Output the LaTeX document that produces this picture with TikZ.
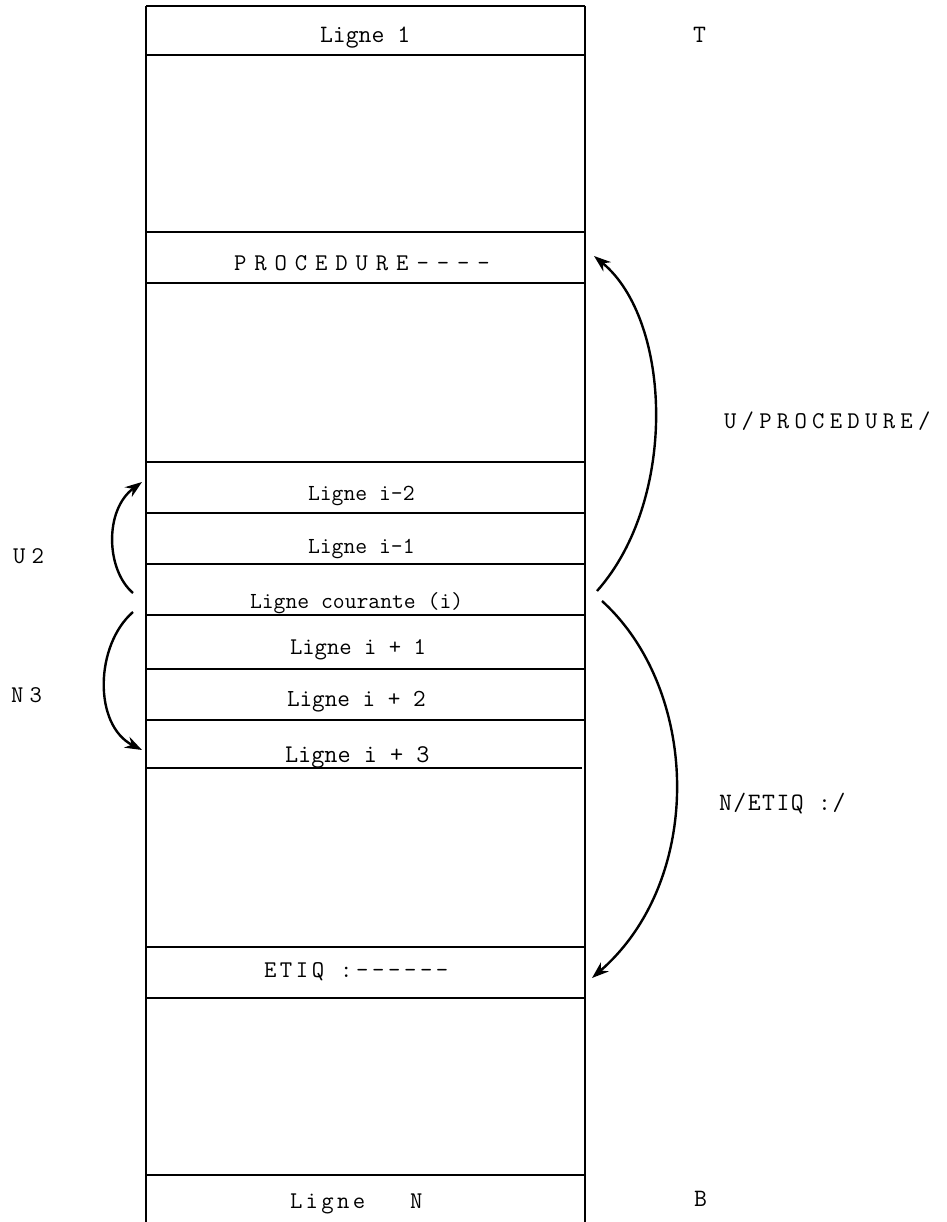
\documentclass[tikz,border=0pt]{standalone}
\usepackage{fontspec}
\newfontfamily\diagmono{Latin Modern Mono}
\usetikzlibrary{arrows.meta}
\newcommand{\fsz}[1]{\diagmono\fontsize{#1}{#1}\selectfont}
\newcommand{\lsp}[1]{\addfontfeatures{LetterSpace=#1}}
\begin{document}
\begin{tikzpicture}[x=1pt,y=-1pt,
  boxline/.style={line width=1.3pt,black},
  lbl/.style={anchor=base west,inner sep=0pt,outer sep=0pt},
  jump/.style={line width=2.4pt,-{Stealth[length=17pt,width=12pt]}}]
\useasboundingbox (0,0) rectangle (946,1222);
% frame
\draw[boxline] (146,6) -- (146,1222);
\draw[boxline] (585,6) -- (585,1222);
\foreach \y in {6,55,232,283,462,513,564,615,669,720,947,998,1175}
  \draw[boxline] (146,\y) -- (585,\y);
\draw[boxline] (146,768) -- (582,768);
% row texts
\node[lbl,font=\fsz{25}] (l1) at (320,43) {Ligne 1};
\node[lbl,font=\fsz{24}\lsp{33}] (proc) at (234,271) {PROCEDURE----};
\node[lbl,font=\fsz{23}] (lm2) at (308,500) {Ligne i-2};
\node[lbl,font=\fsz{23}] (lm1) at (308,553) {Ligne i-1};
\node[lbl,font=\fsz{23}] (lc) at (250,608) {Ligne courante (i)};
\node[lbl,font=\fsz{24}] (lp1) at (290,654) {Ligne i + 1};
\node[lbl,font=\fsz{24.5}] (lp2) at (287,706) {Ligne i + 2};
\node[lbl,font=\fsz{25.5}] (lp3) at (285,762) {Ligne i + 3};
\node[lbl,font=\fsz{24}\lsp{15}] (etiq) at (264,977) {ETIQ :------};
\node[lbl,font=\fsz{24}\lsp{14}] (ln) at (290,1208) {Ligne\hspace{45pt}N};
% side labels
\node[lbl,font=\fsz{25}] (t) at (693,43) {T};
\node[lbl,font=\fsz{25}] (b) at (694,1206) {B};
\node[lbl,font=\fsz{24}\lsp{22}] (uproc) at (724,428) {U/PROCEDURE/};
\node[lbl,font=\fsz{25}\lsp{6}] (netiq) at (719,810) {N/ETIQ :/};
\node[lbl,font=\fsz{24}\lsp{26}] (u2) at (13,563) {U2};
\node[lbl,font=\fsz{24}\lsp{26}] (n3) at (11,702) {N3};
% arrow end points
\coordinate (u2s) at (133,593);
\coordinate (u2e) at (142,482);
\coordinate (n3s) at (133,612);
\coordinate (n3e) at (142,750);
\coordinate (ups) at (597,591);
\coordinate (upe) at (594,256);
\coordinate (nes) at (602,601);
\coordinate (nee) at (592,978);
\draw[jump] (u2s) .. controls (106,570) and (104,510) .. (u2e);
\draw[jump] (n3s) .. controls (95,645) and (93,725) .. (n3e);
\draw[jump] (ups) .. controls (678,500) and (672,320) .. (upe);
\draw[jump] (nes) .. controls (700,690) and (705,880) .. (nee);
\end{tikzpicture}
\end{document}
